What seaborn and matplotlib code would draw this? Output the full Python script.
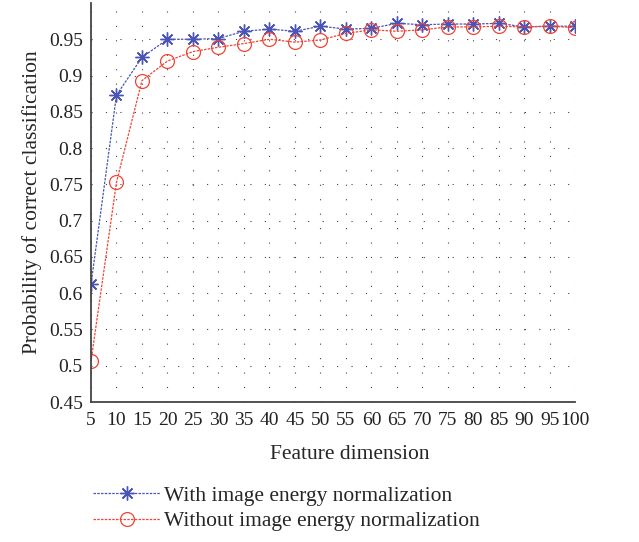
import pandas as pd
import matplotlib.pyplot as plt
import seaborn as sns

dims = [5, 10, 15, 20, 25, 30, 35, 40, 45, 50, 55, 60, 65, 70, 75, 80, 85, 90, 95, 100]
with_norm = [0.612, 0.873, 0.925, 0.950, 0.950, 0.951, 0.961, 0.964, 0.961, 0.968,
             0.964, 0.965, 0.972, 0.970, 0.971, 0.971, 0.972, 0.967, 0.968, 0.968]
without_norm = [0.506, 0.753, 0.893, 0.920, 0.933, 0.939, 0.944, 0.950, 0.946, 0.949,
                0.958, 0.963, 0.961, 0.963, 0.967, 0.967, 0.968, 0.967, 0.968, 0.966]
labels = ['With image energy normalization', 'Without image energy normalization']

df = pd.DataFrame({'dim': dims, labels[0]: with_norm, labels[1]: without_norm})

sns.set_style('white')
plt.rcParams['font.family'] = ['Liberation Serif', 'DejaVu Serif']

fig = plt.figure(figsize=(6.39, 5.42), dpi=100)
ax = fig.add_axes([0.1424, 0.2583, 0.758, 0.7362])

sns.lineplot(data=df, x='dim', y=labels[0], ax=ax, color='#4a55b5', lw=0.9,
             linestyle=(0, (2, 1)), marker=(8, 2, 0), markersize=10, markeredgewidth=1.0,
             markeredgecolor='#4a55b5', label=labels[0])
sns.lineplot(data=df, x='dim', y=labels[1], ax=ax, color='#f04535', lw=0.9,
             linestyle=(0, (2, 1)), marker='o', markersize=10, markeredgewidth=0.9,
             markerfacecolor='none', markeredgecolor='#f04535', label=labels[1])

ax.set_xlim(5, 100)
ax.set_ylim(0.45, 1.0)
ax.set_xticks(dims)
ax.set_xticklabels([str(d) for d in dims])
ax.set_yticks([0.45, 0.5, 0.55, 0.6, 0.65, 0.7, 0.75, 0.8, 0.85, 0.9, 0.95])
ax.set_yticklabels(['0.45', '0.5', '0.55', '0.6', '0.65', '0.7', '0.75', '0.8', '0.85', '0.9', '0.95'])
ax.grid(True, color='#444444', linestyle=(0, (1, 12)), linewidth=0.8)
ax.tick_params(direction='in', length=4, width=1.5, labelsize=14, colors='#222222', pad=6)
ax.tick_params(axis='x', pad=7)
for s in ['top', 'right']:
    ax.spines[s].set_visible(False)
for s in ['left', 'bottom']:
    ax.spines[s].set_color('#444444')
    ax.spines[s].set_linewidth(1.3)

ax.set_xlabel('Feature dimension', fontsize=15.5, va='top')
ax.xaxis.set_label_coords(0.535, -0.108)
ax.set_ylabel('Probability of correct classification', fontsize=15.5, labelpad=5)

fig.legend(*ax.get_legend_handles_labels(), loc='upper left',
           bbox_to_anchor=(0.146, 0.104), frameon=False, borderpad=0, borderaxespad=0,
           fontsize=15.5, handlelength=3.1, handletextpad=0.2, labelspacing=0.25)
ax.get_legend().remove()

fig.savefig('out.png', dpi=100)
